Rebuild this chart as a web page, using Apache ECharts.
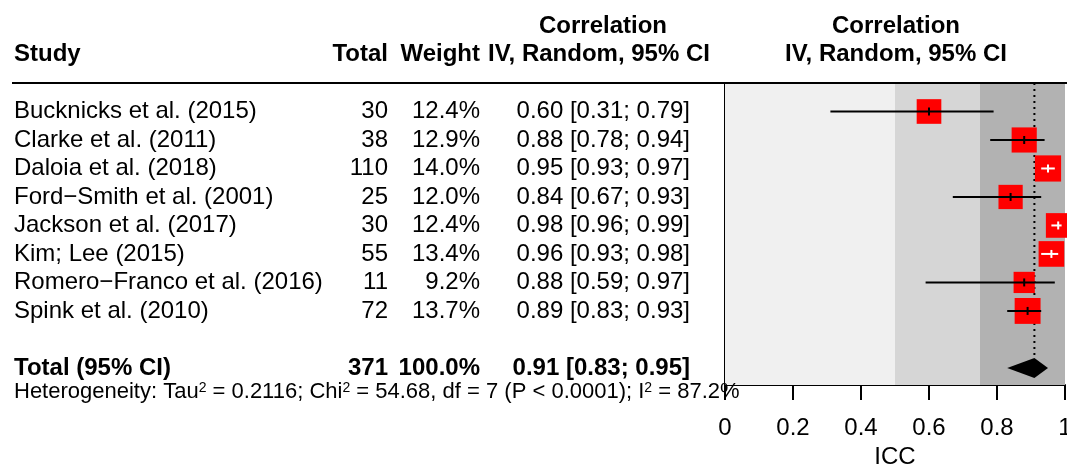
<!DOCTYPE html>
<html>
<head>
<meta charset="utf-8">
<script src="https://cdn.jsdelivr.net/npm/echarts@6.0.0/dist/echarts.min.js"></script>
<style>
  html, body { margin: 0; padding: 0; background: #fff; overflow: hidden; }
  #chart { width: 1067px; height: 466px; }
</style>
</head>
<body>
<div id="chart"></div>
<script>
// ---- Study-level inputs ----
const studies = [
  'Bucknicks et al. (2015)',
  'Clarke et al. (2011)',
  'Daloia et al. (2018)',
  'Ford\u2212Smith et al. (2001)',
  'Jackson et al. (2017)',
  'Kim; Lee (2015)',
  'Romero\u2212Franco et al. (2016)',
  'Spink et al. (2010)'
];
const totals    = [30, 38, 110, 25, 30, 55, 11, 72];
const weights   = [12.4, 12.9, 14.0, 12.0, 12.4, 13.4, 9.2, 13.7];
const estimates = [0.60, 0.88, 0.95, 0.84, 0.98, 0.96, 0.88, 0.89];
const lowerCI   = [0.31, 0.78, 0.93, 0.67, 0.96, 0.93, 0.59, 0.83];
const upperCI   = [0.79, 0.94, 0.97, 0.93, 0.99, 0.98, 0.97, 0.93];

// ---- Pooled random-effects result ----
const pooledTotal = 371;
const pooledWeight = 100.0;
const pooledEstimate = 0.91;
const pooledLower = 0.83;
const pooledUpper = 0.95;

// ---- Heterogeneity statistics ----
const hetTau2 = '0.2116';
const hetChi2 = '54.68';
const hetDf = 7;
const hetP = '< 0.0001';
const hetI2 = '87.2';

// ---- Axis / reference bands (ICC interpretation thresholds) ----
const xTicks = [0, 0.2, 0.4, 0.6, 0.8, 1];
const bandEdges = [0, 0.5, 0.75, 1];

// ---- Styling ----
const FONT = '"Liberation Sans", Arial, Helvetica, sans-serif';
const FS = 24;
const bandColors = ['#f0f0f0', '#d6d6d6', '#b2b2b2'];
const ROW_MAX = 10.6;          // y extent of the plot box in row units
const TOTAL_ROW = 10;
const HET_ROW = 10.85;

// column anchors of the left-hand table
const COL = { study: 14, totalR: 388, weightR: 480, ciR: 690, ciHead: 601, plotHead: 896 };

const fmt2 = v => v.toFixed(2);
const ciText = (e, l, u) => `${fmt2(e)} [${fmt2(l)}; ${fmt2(u)}]`;

// rows of the table: row position plus its cells
const tableRows = [];
tableRows.push({ row: -2, bold: true, cells: [
  ['Correlation', COL.ciHead + 2, 'center'],
  ['Correlation', COL.plotHead, 'center']
]});
tableRows.push({ row: -1, bold: true, cells: [
  ['Study', COL.study, 'left'],
  ['Total', COL.totalR, 'right'],
  ['Weight', COL.weightR, 'right'],
  ['IV, Random, 95% CI', COL.ciHead - 2, 'center'],
  ['IV, Random, 95% CI', COL.plotHead, 'center']
]});
studies.forEach((name, i) => {
  tableRows.push({ row: i + 1, bold: false, cells: [
    [name, COL.study, 'left'],
    [String(totals[i]), COL.totalR, 'right'],
    [weights[i].toFixed(1) + '%', COL.weightR, 'right'],
    [ciText(estimates[i], lowerCI[i], upperCI[i]), COL.ciR, 'right']
  ]});
});
tableRows.push({ row: TOTAL_ROW, bold: true, cells: [
  ['Total (95% CI)', COL.study, 'left'],
  [String(pooledTotal), COL.totalR, 'right'],
  [pooledWeight.toFixed(1) + '%', COL.weightR, 'right'],
  [ciText(pooledEstimate, pooledLower, pooledUpper), COL.ciR, 'right']
]});

const hetText = `Heterogeneity: Tau{sup|2} = ${hetTau2}; Chi{sup|2} = ${hetChi2}, df = ${hetDf} (P ${hetP}); I{sup|2} = ${hetI2}%`;

const chart = echarts.init(document.getElementById('chart'), null, { renderer: 'canvas' });

function textEl(str, x, y, align, bold, size) {
  return {
    type: 'text',
    style: {
      text: str, x: x, y: y, align: align, verticalAlign: 'middle',
      fill: '#000', fontFamily: FONT, fontSize: size, fontWeight: bold ? 'bold' : 'normal'
    }
  };
}

const option = {
  animation: false,
  backgroundColor: '#fff',
  grid: { left: 725, right: 2, top: 83, bottom: 81, containLabel: false, outerBoundsMode: 'none' },
  xAxis: {
    type: 'value', min: xTicks[0], max: xTicks[xTicks.length - 1], interval: 0.2,
    name: 'ICC', nameLocation: 'middle', nameGap: 60,
    nameTextStyle: { fontFamily: FONT, fontSize: FS, color: '#000' },
    axisLine: { show: true, onZero: false, lineStyle: { color: '#000', width: 2 } },
    axisTick: { show: true, inside: false, length: 15, lineStyle: { color: '#000', width: 2 } },
    axisLabel: { fontFamily: FONT, fontSize: FS, color: '#000', margin: 31, hideOverlap: false,
      formatter: v => String(v) },
    splitLine: { show: false }
  },
  yAxis: {
    type: 'value', inverse: true, min: 0, max: ROW_MAX,
    axisLine: { show: true, lineStyle: { color: '#000', width: 2 } },
    axisTick: { show: false }, axisLabel: { show: false }, splitLine: { show: false }
  },
  graphic: [{
    type: 'line', z: 100,
    shape: { x1: 12, y1: 83, x2: 1067, y2: 83 },
    style: { stroke: '#000', lineWidth: 2 }
  }],
  series: [
    // interpretation bands behind the plot
    {
      type: 'custom', name: 'bands', clip: true, silent: true,
      data: bandColors.map((c, i) => [bandEdges[i], bandEdges[i + 1]]),
      renderItem: (params, api) => {
        const cs = params.coordSys;
        const x0 = api.coord([api.value(0), 0])[0];
        const x1 = api.coord([api.value(1), 0])[0];
        return { type: 'rect', shape: { x: x0, y: cs.y, width: x1 - x0, height: cs.height },
          style: { fill: bandColors[params.dataIndex] } };
      }
    },
    // pooled estimate reference line (dotted) and diamond
    {
      type: 'custom', name: 'pooled', clip: false, silent: true, z: 3,
      data: [[pooledEstimate, pooledLower, pooledUpper, TOTAL_ROW]],
      renderItem: (params, api) => {
        const est = api.value(0), lo = api.value(1), hi = api.value(2), row = api.value(3);
        const c = api.coord([est, row]);
        const l = api.coord([lo, row]);
        const h = api.coord([hi, row]);
        const top = api.coord([est, 0]);
        const dh = 10;
        return { type: 'group', children: [
          { type: 'line', shape: { x1: c[0], y1: top[1], x2: c[0], y2: c[1] - dh },
            style: { stroke: '#000', lineWidth: 2, lineDash: [2, 4] } },
          { type: 'polygon', shape: { points: [[l[0], c[1]], [c[0], c[1] - dh], [h[0], c[1]], [c[0], c[1] + dh]] },
            style: { fill: '#000' } }
        ]};
      }
    },
    // study squares with confidence intervals
    {
      type: 'custom', name: 'studies', clip: false, silent: true, z: 4,
      data: studies.map((s, i) => [estimates[i], lowerCI[i], upperCI[i], weights[i], i + 1]),
      renderItem: (params, api) => {
        const est = api.value(0), lo = api.value(1), hi = api.value(2), w = api.value(3), row = api.value(4);
        const c = api.coord([est, row]);
        const l = api.coord([lo, row]);
        const h = api.coord([hi, row]);
        const side = 7 * Math.sqrt(w);
        const inside = l[0] >= c[0] - side / 2 && h[0] <= c[0] + side / 2;
        const ink = inside ? '#fff' : '#000';
        return { type: 'group', children: [
          { type: 'rect', shape: { x: c[0] - side / 2, y: c[1] - side / 2, width: side, height: side },
            style: { fill: '#ff0000' } },
          { type: 'line', shape: { x1: l[0], y1: c[1], x2: h[0], y2: c[1] },
            style: { stroke: ink, lineWidth: 2 } },
          { type: 'line', shape: { x1: c[0], y1: c[1] - 4, x2: c[0], y2: c[1] + 4 },
            style: { stroke: ink, lineWidth: 2 } }
        ]};
      }
    },
    // table text, headers and heterogeneity line
    {
      type: 'custom', name: 'table', clip: false, silent: true, z: 5,
      data: tableRows.map(r => [0, r.row]).concat([[0, HET_ROW]]),
      renderItem: (params, api) => {
        const y = api.coord([0, api.value(1)])[1];
        if (params.dataIndex >= tableRows.length) {
          return {
            type: 'text',
            style: {
              text: hetText, x: COL.study, y: y, align: 'left', verticalAlign: 'middle',
              fill: '#000', fontFamily: FONT, fontSize: 22, lineHeight: 22,
              rich: { sup: { fontFamily: FONT, fontSize: 14, lineHeight: 14, verticalAlign: 'top', fill: '#000' } }
            }
          };
        }
        const r = tableRows[params.dataIndex];
        return { type: 'group', children: r.cells.map(cell => textEl(cell[0], cell[1], y, cell[2], r.bold, FS)) };
      }
    }
  ]
};

chart.setOption(option);
</script>
</body>
</html>
